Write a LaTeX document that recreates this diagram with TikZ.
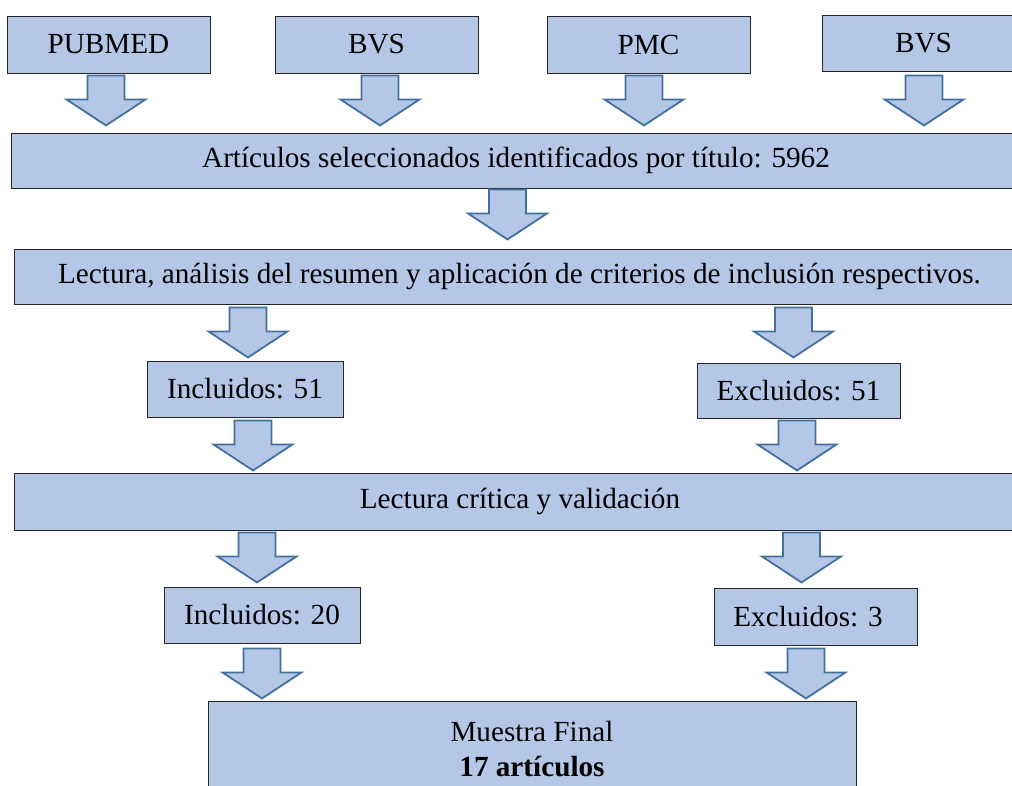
\documentclass[tikz,border=0pt]{standalone}
\usepackage{fontspec}
\setmainfont{Liberation Serif}
\usepackage{xcolor}
\usetikzlibrary{calc,positioning}
\definecolor{cajaazul}{HTML}{B4C7E7}
\definecolor{bordeazul}{HTML}{41719C}

\begin{document}
\begin{tikzpicture}[x=1pt, y=-1pt]
		\tikzstyle{every node}=[font=\fontsize{29.2}{35}\selectfont]
		\tikzstyle{caja}=[draw=black!85, line width=0.9pt, fill=cajaazul, inner sep=0pt]
		\tikzset{flecha/.pic={
			\draw [line width=1.8pt, draw=bordeazul, fill=cajaazul, line join=miter]
				(-18.5,0) -- (18.5,0) -- (18.5,24) -- (39.5,24) -- (0,50) -- (-39.5,24) -- (-18.5,24) -- cycle;
		}}
		\useasboundingbox (0,0) rectangle (1012,785);
		\node [caja, minimum width=203, minimum height=57] (pubmed) at (108.5,44.5) {PUBMED};
		\node [caja, minimum width=203, minimum height=57] (bvsa) at (376.5,44.5) {BVS};
		\node [caja, minimum width=203, minimum height=57] (pmc) at (648.5,44.5) {PMC};
		\node [caja, minimum width=203, minimum height=56] (bvsb) at (923.5,43) {BVS};
		\node [caja, minimum width=1010, minimum height=55] (titulo) at (516,160.5) {Artículos seleccionados identificados por título: 5962};
		\node [caja, minimum width=1011, minimum height=55] (resumen) at (519.5,276.5) {Lectura, análisis del resumen y aplicación de criterios de inclusión respectivos.};
		\node [caja, minimum width=196, minimum height=56] (inca) at (245,389) {Incluidos: 51};
		\node [caja, minimum width=203, minimum height=55] (exca) at (798.5,390.5) {Excluidos: 51};
		\node [caja, minimum width=1012, minimum height=57] (critica) at (520,501.5) {Lectura crítica y validación};
		\node [caja, minimum width=196, minimum height=56] (incb) at (262,615) {Incluidos: 20};
		\node [caja, minimum width=203, minimum height=57] (excb) at (815.5,616.5) {Excluidos: 3\hspace*{15pt}};
		\node [caja, minimum width=648, minimum height=96, align=center] (muestra) at (532,749) {Muestra Final\\\textbf{17 artículos}};
		\pic at ($(pubmed.south)+(-2.5,2)$) {flecha};
		\pic at ($(bvsa.south)+(3.5,2)$) {flecha};
		\pic at ($(pmc.south)+(-4.5,2)$) {flecha};
		\pic at ($(bvsb.south)+(0.5,4)$) {flecha};
		\pic at ($(titulo.south)+(-8.5,1)$) {flecha};
		\pic at ($(inca.north |- resumen.south)+(3,3)$) {flecha};
		\pic at ($(exca.north |- resumen.south)+(-5,3)$) {flecha};
		\pic at ($(inca.south)+(8,3)$) {flecha};
		\pic at ($(exca.south)+(-1.5,2)$) {flecha};
		\pic at ($(incb.north |- critica.south)+(-5,2)$) {flecha};
		\pic at ($(excb.north |- critica.south)+(-14,2)$) {flecha};
		\pic at ($(incb.south)+(0,5)$) {flecha};
		\pic at ($(excb.south)+(-9.5,3)$) {flecha};
	\end{tikzpicture}
\end{document}
